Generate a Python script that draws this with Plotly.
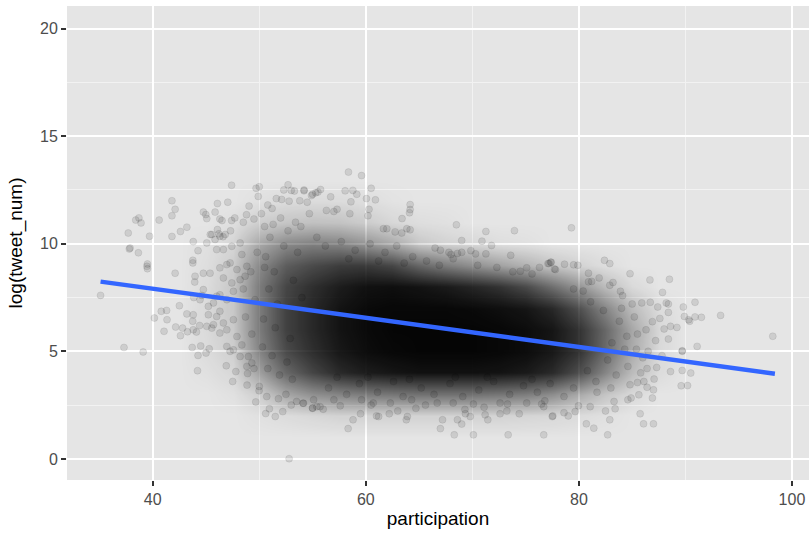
import plotly.graph_objects as go

# ---- individual (sparse, visible) points ----
pts_x = [
    47.4, 50.0, 49.7, 49.9, 52.7, 52.3, 53.0, 53.3, 54.2, 55.0, 55.5,
    41.8, 42.1, 41.8, 38.7, 38.4, 38.9, 40.6, 37.7, 39.7, 41.8, 42.6, 43.2,
    44.75, 44.98, 45.85, 45.07, 46.07, 47.04, 46.3, 46.5, 47.4, 47.7, 49.04, 48.5, 48.8, 49.5, 50.2, 51.2, 52.1, 52.8, 53.8, 54.5,
    46.07, 46.2, 47.3, 45.4, 46.6, 46.8, 43.8, 37.87,
    37.8, 38.65, 39.5, 39.5, 39.45, 35.1, 37.3, 39.1, 42.1,
    40.15, 40.8, 41.3, 41.34, 41.06, 42.5, 42.15, 42.6, 42.8, 43.26, 43.2,
    43.76, 43.76, 43.97, 43.94, 44.75, 45.38, 44.25,
    43.8, 43.8, 43.75, 44.1, 44.4, 44.6, 43.85,
    43.7, 44.5, 45.3, 44.25, 45.0, 44.2, 46.9,
    47.5, 47.8, 48.85, 48.9, 49.67, 49.98, 50.0, 50.6, 50.95, 51.5, 52.8, 53.5, 54.1, 55.0, 55.4,
    45.07, 45.54, 46.0, 46.63, 45.85, 46.3, 47.42, 48.2, 48.36,
    46.3, 46.95, 47.26, 47.9, 46.63, 47.42, 48.2, 48.83, 48.67, 47.57, 46.3, 46.95,
    45.22, 46.0, 45.7, 46.63, 46.3, 47.57, 46.95, 47.9, 46.3, 45.54, 45.07,
    46.95, 47.57, 48.36, 48.98, 48.2, 47.26, 49.3, 48.83,
    44.75, 45.22, 44.44, 45.7, 46.0,
    58.34, 58.8, 59.5, 61.2, 61.0, 62.2, 63.0, 63.8, 63.9,
    67.0, 67.2, 68.3, 69.0, 68.6, 69.35, 70.1, 69.8,
    71.2, 71.45, 72.6, 73.24, 74.4, 73.36, 76.7, 77.5, 76.7,
    55.7, 55.0, 56.0, 54.15, 57.0, 57.6, 55.1,
    60.5, 59.6, 60.7, 62.3, 64.3, 64.7, 65.6, 66.7, 68.2, 69.3, 70.1, 71.1, 72.6, 73.3, 75.1, 76.5, 76.8,
    98.2, 93.3, 91.5, 90.9, 90.4, 90.3, 89.9, 89.8, 90.9, 91.1, 89.7, 90.5, 89.7, 88.6, 90.2, 89.6,
    87.0, 86.07, 85.75, 82.7, 81.4, 80.7, 82.9, 82.5,
    77.55, 78.6, 79.0, 79.65,
    86.9, 87.0, 87.06, 86.4, 85.63, 85.5, 86.1, 84.8, 84.6, 84.9, 83.4, 83.3, 81.06, 79.96,
    87.3, 86.4, 86.5, 87.2, 86.0, 87.8, 86.3, 85.5,
    79.3, 82.4, 82.9, 84.8, 86.67, 88.5, 87.85,
    88.4, 88.2, 87.4, 86.7, 85.9, 85.0, 88.4, 87.6, 86.9, 89.2, 88.6, 88.0, 88.4, 89.7,
    78.65, 79.5, 79.9, 77.2, 77.35, 77.7,
    80.9, 81.9, 80.9, 81.2, 82.9, 83.9, 84.1, 79.5,
    58.37, 59.6, 60.5, 58.06, 58.78, 59.15, 54.2, 55.75, 55.3, 54.9,
    56.7, 60.06, 60.9, 58.6, 64.16, 64.16, 64.1, 63.4, 68.5, 69.0, 71.27, 73.95, 70.9, 71.8,
    69.86, 70.3, 71.27, 73.6,
    60.2, 60.3, 58.5, 57.0, 56.3, 57.3, 54.7,
    61.65, 61.97, 63.85, 64.16, 62.75, 63.37,
    66.5, 67.0, 67.8, 68.0, 68.6, 69.0,
    76.3, 77.1, 77.4, 77.8, 75.1, 74.5,
    50.5, 51.3, 52.0, 52.7, 53.4, 51.0, 53.9, 50.8, 51.6,
    51.8, 52.5, 53.0, 52.2, 50.7,
    50.6, 51.4, 52.3, 50.9, 51.7, 53.2, 50.4, 52.9, 51.2, 53.6,
    50.8, 51.9, 52.6, 50.3, 53.1, 51.5, 54.0, 50.5,
    80.8, 81.6, 82.3, 83.1, 81.1, 82.7, 83.8, 84.3, 80.4, 83.5,
    56.5, 58.2, 59.4, 61.1, 62.6, 63.5, 65.2, 66.4, 67.9, 69.1, 70.6, 72.0,
    73.5, 74.8, 76.1, 77.3, 78.6, 79.5, 57.3, 60.2, 64.1, 68.4, 71.4, 75.6,
    56.2, 57.7, 59.0, 60.4, 61.8, 62.9, 64.4, 65.7, 66.9, 68.2, 70.5, 72.3,
    73.8, 75.6, 55.4, 58.4, 61.2, 63.6,
    84.6, 85.2, 84.0, 85.8, 83.2, 84.5, 85.4, 83.0, 81.7,
    49.3, 49.6, 48.7, 49.2, 49.8, 48.5, 49.5,
]
pts_y = [
    12.72, 12.65, 12.58, 12.2, 12.74, 12.5, 12.48, 12.45, 12.5, 12.3, 12.4,
    12.0, 11.6, 11.3, 11.2, 11.1, 10.97, 11.1, 10.5, 10.35, 10.34, 10.57, 10.77,
    11.47, 11.36, 11.47, 11.17, 11.87, 11.93, 11.15, 11.08, 11.08, 11.2, 11.75, 11.0, 11.35, 11.15, 11.4, 11.64, 12.06, 11.98, 12.0, 11.93,
    10.66, 10.46, 10.6, 10.43, 10.33, 10.43, 10.1, 9.8,
    9.76, 9.58, 9.06, 8.84, 8.95, 7.6, 5.18, 4.97, 8.63,
    6.55, 6.86, 6.9, 6.47, 5.93, 7.12, 6.13, 5.73, 6.08, 5.91, 6.74,
    9.11, 9.23, 8.49, 8.22, 8.63, 8.63, 9.68,
    6.7, 6.0, 6.4, 5.9, 6.2, 7.6, 7.5,
    5.18, 5.25, 5.12, 4.81, 4.92, 4.1, 4.33,
    3.6, 4.06, 3.43, 3.97, 2.65, 3.17, 3.37, 2.11, 2.33, 1.97, 0.01, 2.67, 2.59, 2.36, 2.43,
    10.04, 10.43, 9.73, 9.73, 10.2, 10.35, 9.88, 10.04, 9.5,
    8.88, 9.03, 9.11, 8.8, 8.41, 8.18, 8.33, 8.95, 8.49, 7.79, 7.63, 7.4,
    6.7, 6.62, 6.24, 6.32, 6.86, 6.47, 6.0, 5.69, 5.85, 6.08, 6.16,
    5.23, 5.07, 5.3, 4.76, 4.76, 5.0, 4.46, 4.3,
    7.87, 7.09, 7.4, 7.25, 7.56,
    1.41, 1.82, 2.1, 1.97, 2.0, 2.1, 2.23, 1.82, 1.97,
    1.41, 1.82, 1.12, 1.62, 1.82, 2.1, 1.12, 1.97,
    2.05, 1.82, 2.1, 2.23, 2.1, 1.12, 1.12, 1.97, 2.43,
    2.43, 2.36, 2.31, 2.59, 2.75, 2.47, 2.75,
    2.5, 2.75, 2.6, 2.6, 2.75, 2.35, 2.5, 2.6, 2.6, 2.3, 2.55, 2.4, 2.6, 2.55, 2.6, 2.55, 2.7,
    5.7, 6.67, 6.58, 6.6, 6.4, 6.47, 6.62, 7.06, 7.28, 5.23, 5.0, 3.99, 4.11, 4.06, 3.41, 3.4,
    1.63, 1.63, 2.1, 1.12, 1.43, 1.63, 1.82, 2.23,
    2.0, 2.15, 2.0, 2.2,
    2.83, 3.21, 3.71, 3.33, 2.98, 3.55, 3.6, 3.45, 2.75, 2.83, 2.33, 2.67, 2.43, 2.47,
    4.25, 4.2, 5.0, 5.5, 4.7, 4.8, 6.0, 5.8,
    10.74, 9.23, 9.08, 8.61, 8.32, 8.35, 7.74,
    7.2, 7.25, 7.06, 7.28, 7.25, 7.2, 6.81, 6.53, 6.38, 6.11, 6.16, 6.04, 5.57, 5.03,
    9.05, 9.02, 9.0, 9.08, 9.14, 8.83,
    8.63, 8.41, 8.23, 8.25, 8.07, 7.79, 7.59, 7.9,
    13.33, 13.17, 12.58, 12.46, 12.48, 12.3, 12.46, 12.52, 12.37, 12.24,
    12.18, 12.1, 12.04, 11.95, 11.82, 11.59, 11.44, 11.17, 10.88, 10.15, 10.57, 10.61, 10.12, 9.92,
    9.68, 9.53, 9.53, 9.46,
    11.3, 11.6, 11.4, 11.5, 11.55, 11.6, 11.4,
    10.7, 10.7, 10.7, 10.65, 10.55, 10.5,
    9.8, 9.7, 9.6, 9.5, 9.55, 9.6,
    8.9, 9.08, 9.14, 8.8, 8.88, 8.72,
    10.8, 10.9, 11.2, 10.6, 11.0, 10.3, 10.8, 11.8, 12.1,
    2.8, 3.0, 2.5, 2.2, 2.9,
    9.4, 8.7, 9.9, 7.9, 7.2, 8.3, 6.5, 5.6, 4.8, 9.6,
    4.2, 3.9, 4.5, 5.2, 3.7, 6.1, 7.5, 8.9,
    4.1, 3.6, 6.9, 5.4, 7.3, 4.6, 6.4, 5.1, 7.8, 3.9,
    3.3, 3.0, 3.5, 3.1, 3.6, 2.9, 3.3, 3.0, 3.5, 2.9, 3.2, 3.6,
    3.0, 3.4, 3.1, 3.5, 2.9, 3.3, 3.8, 3.8, 3.7, 3.8, 3.8, 3.7,
    9.9, 10.1, 9.7, 10.0, 9.6, 9.9, 9.4, 9.2, 9.0, 9.3, 9.0, 8.9,
    8.7, 8.6, 10.3, 9.3, 9.2, 9.1,
    4.3, 6.6, 7.0, 4.0, 8.2, 5.7, 5.1, 3.3, 3.1,
    5.8, 7.4, 6.6, 8.7, 9.6, 7.9, 4.2,
]

# ---- darkness of the overplotted core (0 = background, 1 = black) ----
dens_x = [42.5, 45, 47.5, 50, 52.5, 55, 57.5, 60, 62.5, 65, 67.5, 70, 72.5, 75, 77.5, 80, 82.5, 85, 87.5, 90]
dens_y = [1, 2, 3, 4, 5, 6, 7, 8, 9, 10, 11, 12, 13]
dens_z = [
    [0, 0, 0, 0, 0, 0, 0, 0, 0, 0, 0, 0, 0, 0, 0, 0, 0, 0, 0, 0],
    [0, 0, 0, 0.02, 0.04, 0.06, 0.08, 0.08, 0.08, 0.08, 0.08, 0.08, 0.08, 0.07, 0.06, 0.04, 0.02, 0, 0, 0],
    [0, 0, 0.02, 0.1, 0.27, 0.37, 0.42, 0.46, 0.48, 0.5, 0.5, 0.5, 0.48, 0.45, 0.38, 0.26, 0.14, 0.05, 0, 0],
    [0, 0.02, 0.06, 0.3, 0.55, 0.7, 0.82, 0.88, 0.91, 0.93, 0.93, 0.93, 0.92, 0.89, 0.82, 0.66, 0.42, 0.18, 0.04, 0],
    [0, 0.04, 0.1, 0.42, 0.68, 0.8, 0.9, 0.95, 0.97, 0.98, 0.98, 0.98, 0.97, 0.95, 0.9, 0.78, 0.54, 0.25, 0.05, 0],
    [0, 0.05, 0.12, 0.46, 0.72, 0.83, 0.92, 0.96, 0.98, 0.98, 0.98, 0.98, 0.97, 0.95, 0.91, 0.78, 0.55, 0.27, 0.06, 0],
    [0, 0.05, 0.13, 0.46, 0.72, 0.83, 0.92, 0.96, 0.97, 0.97, 0.97, 0.96, 0.94, 0.91, 0.83, 0.66, 0.42, 0.18, 0.04, 0],
    [0, 0.04, 0.13, 0.46, 0.7, 0.8, 0.88, 0.93, 0.94, 0.92, 0.89, 0.84, 0.78, 0.68, 0.52, 0.35, 0.18, 0.05, 0, 0],
    [0, 0.03, 0.11, 0.4, 0.6, 0.68, 0.74, 0.75, 0.7, 0.56, 0.46, 0.38, 0.3, 0.22, 0.14, 0.08, 0.03, 0, 0, 0],
    [0, 0.02, 0.07, 0.27, 0.4, 0.44, 0.42, 0.35, 0.26, 0.13, 0.08, 0.06, 0.03, 0.02, 0, 0, 0, 0, 0, 0],
    [0, 0, 0.03, 0.1, 0.14, 0.16, 0.15, 0.11, 0.06, 0.03, 0.02, 0, 0, 0, 0, 0, 0, 0, 0, 0],
    [0, 0, 0, 0.02, 0.04, 0.04, 0.04, 0.03, 0.01, 0, 0, 0, 0, 0, 0, 0, 0, 0, 0, 0],
    [0, 0, 0, 0, 0, 0, 0, 0, 0, 0, 0, 0, 0, 0, 0, 0, 0, 0, 0, 0],
]

# ---- linear fit line (end points) ----
fit_x = [35.1, 98.4]
fit_y = [8.24, 3.96]

x_ticks = [40, 60, 80, 100]
y_ticks = [0, 5, 10, 15, 20]
x_minor = [50, 70, 90]
y_minor = [2.5, 7.5, 12.5, 17.5]

FONT = "Liberation Sans, Arial, Helvetica, sans-serif"

fig = go.Figure()
fig.add_trace(go.Heatmap(
    x=dens_x, y=dens_y, z=dens_z, zmin=0, zmax=1, zsmooth="best",
    colorscale=[[0, "rgba(0,0,0,0)"], [1, "rgba(0,0,0,1)"]],
    showscale=False, hoverinfo="skip",
))
fig.add_trace(go.Scatter(
    x=pts_x, y=pts_y, mode="markers",
    marker=dict(size=7, color="rgba(0,0,0,0.1)",
                line=dict(color="rgba(0,0,0,0.1)", width=0.8)),
    showlegend=False, hoverinfo="skip",
))
fig.add_trace(go.Scatter(
    x=fit_x, y=fit_y, mode="lines",
    line=dict(color="#3366FF", width=4.5),
    showlegend=False,
))

axis_common = dict(
    showgrid=True, gridcolor="white", gridwidth=1.5,
    zeroline=False, showline=False,
    ticks="outside", ticklen=5, tickwidth=1.5, tickcolor="#333333",
    tickfont=dict(family=FONT, size=16, color="#4D4D4D"),
    ticklabeloverflow="allow",
)

fig.update_layout(
    width=809, height=533,
    margin=dict(l=67, r=0, t=6, b=53),
    paper_bgcolor="white", plot_bgcolor="#E5E5E5",
    showlegend=False,
    xaxis=dict(
        range=[31.95, 101.6], tickmode="array", tickvals=x_ticks,
        minor=dict(tickmode="array", tickvals=x_minor, showgrid=True,
                   gridcolor="#F2F2F2", gridwidth=0.8, ticks=""),
        title=dict(text="participation", standoff=4,
                   font=dict(family=FONT, size=19, color="black")),
        **axis_common,
    ),
    yaxis=dict(
        range=[-0.98, 21.05], tickmode="array", tickvals=y_ticks,
        minor=dict(tickmode="array", tickvals=y_minor, showgrid=True,
                   gridcolor="#F2F2F2", gridwidth=0.8, ticks=""),
        title=dict(text="log(tweet_num)", standoff=12,
                   font=dict(family=FONT, size=19, color="black")),
        **axis_common,
    ),
)

# remove the page's default 8px body margin so the figure sits at the window origin
fig.write_html(
    "out.html",
    config={"displayModeBar": False},
    post_script="document.body.style.margin='0';document.body.style.overflow='hidden';",
)
